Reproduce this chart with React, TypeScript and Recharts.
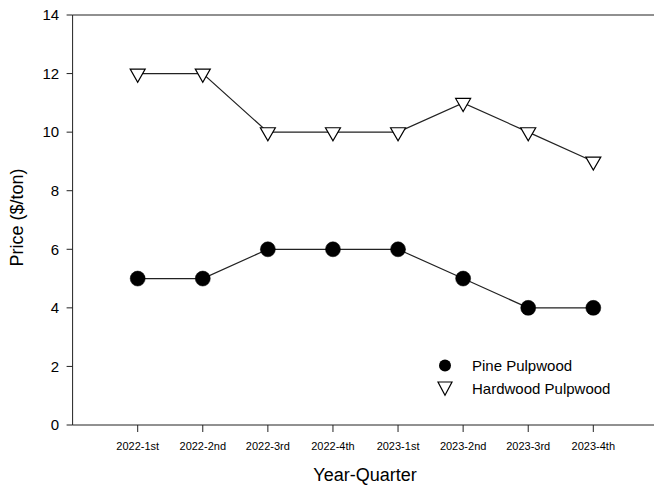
import React from 'react';
import { LineChart, Line, XAxis, YAxis, ReferenceLine, Label } from 'recharts';

const quarters = ['2022-1st', '2022-2nd', '2022-3rd', '2022-4th', '2023-1st', '2023-2nd', '2023-3rd', '2023-4th'];
const pinePulpwood = [5, 5, 6, 6, 6, 5, 4, 4];
const hardwoodPulpwood = [12, 12, 10, 10, 10, 11, 10, 9];
const yTicks = [0, 2, 4, 6, 8, 10, 12, 14];
const xTicks = quarters.map((_, i) => i + 1);

const data = quarters.map((q, i) => ({
    idx: i + 1,
    quarter: q,
    pine: pinePulpwood[i],
    hardwood: hardwoodPulpwood[i],
}));

const FONT = '"Liberation Sans", Arial, sans-serif';
const AXIS = '#222';

const CircleDot = (props: any) => {
    const { cx, cy } = props;
    if (cx == null || cy == null) return null;
    return <circle cx={cx} cy={cy} r={7.5} fill="#000" stroke="#000" strokeWidth={0.5} />;
};

const TriangleDot = (props: any) => {
    const { cx, cy } = props;
    if (cx == null || cy == null) return null;
    const w = 7.5;
    const pts = `${cx - w},${cy - 4.4} ${cx + w},${cy - 4.4} ${cx},${cy + 8.7}`;
    return <polygon points={pts} fill="#fff" stroke="#000" strokeWidth={1.2} strokeLinejoin="miter" />;
};

// legend drawn as an overlay so it doesn't take space from the plot
const LegendBox = () => (
    <div style={{ position: 'absolute', left: 430, top: 353.5, width: 220, fontFamily: FONT, fontSize: 15, color: '#000' }}>
        <div style={{ display: 'flex', alignItems: 'center', height: 23 }}>
            <svg width={30} height={23}>
                <circle cx={15} cy={11.5} r={6} fill="#000" />
            </svg>
            <span style={{ marginLeft: 12 }}>Pine Pulpwood</span>
        </div>
        <div style={{ display: 'flex', alignItems: 'center', height: 23 }}>
            <svg width={30} height={23}>
                <polygon points="8,5 22,5 15,18.3" fill="#fff" stroke="#000" strokeWidth={1.2} />
            </svg>
            <span style={{ marginLeft: 12 }}>Hardwood Pulpwood</span>
        </div>
    </div>
);

const App: React.FC = () => {
    return (
        <div style={{ position: 'absolute', left: 0, top: 0, width: 654, height: 486, overflow: 'hidden', background: '#fff' }}>
            <LineChart width={680} height={486} data={data} margin={{ top: 15, right: 21.6, left: 0, bottom: 0 }}>
                <XAxis
                    dataKey="idx"
                    type="number"
                    domain={[0, 9]}
                    ticks={xTicks}
                    tickFormatter={(v: number) => quarters[v - 1] ?? ''}
                    height={61}
                    stroke={AXIS}
                    tickSize={7}
                    tickMargin={10}
                    tick={{ fill: '#000', fontSize: 11, fontFamily: FONT }}
                    interval={0}
                >
                    <Label
                        content={() => (
                            <text x={365} y={481} textAnchor="middle" fontSize={18} fontFamily={FONT} fill="#000">
                                Year-Quarter
                            </text>
                        )}
                    />
                </XAxis>
                <YAxis
                    type="number"
                    domain={[0, 14]}
                    ticks={yTicks}
                    width={72.6}
                    stroke={AXIS}
                    tickSize={6}
                    tickMargin={7.4}
                    tick={{ fill: '#000', fontSize: 15, fontFamily: FONT }}
                    interval={0}
                >
                    <Label
                        content={() => (
                            <text x={17} y={217.5} dy="0.35em" transform="rotate(-90 17 217.5)" textAnchor="middle" fontSize={18} fontFamily={FONT} fill="#000">
                                Price ($/ton)
                            </text>
                        )}
                    />
                </YAxis>
                <ReferenceLine y={14} stroke={AXIS} strokeWidth={1.2} />
                <Line
                    dataKey="hardwood"
                    stroke="#222"
                    strokeWidth={1.2}
                    dot={<TriangleDot />}
                    activeDot={false}
                    isAnimationActive={false}
                />
                <Line
                    dataKey="pine"
                    stroke="#222"
                    strokeWidth={1.2}
                    dot={<CircleDot />}
                    activeDot={false}
                    isAnimationActive={false}
                />
            </LineChart>
            <LegendBox />
        </div>
    );
};

export default App;
